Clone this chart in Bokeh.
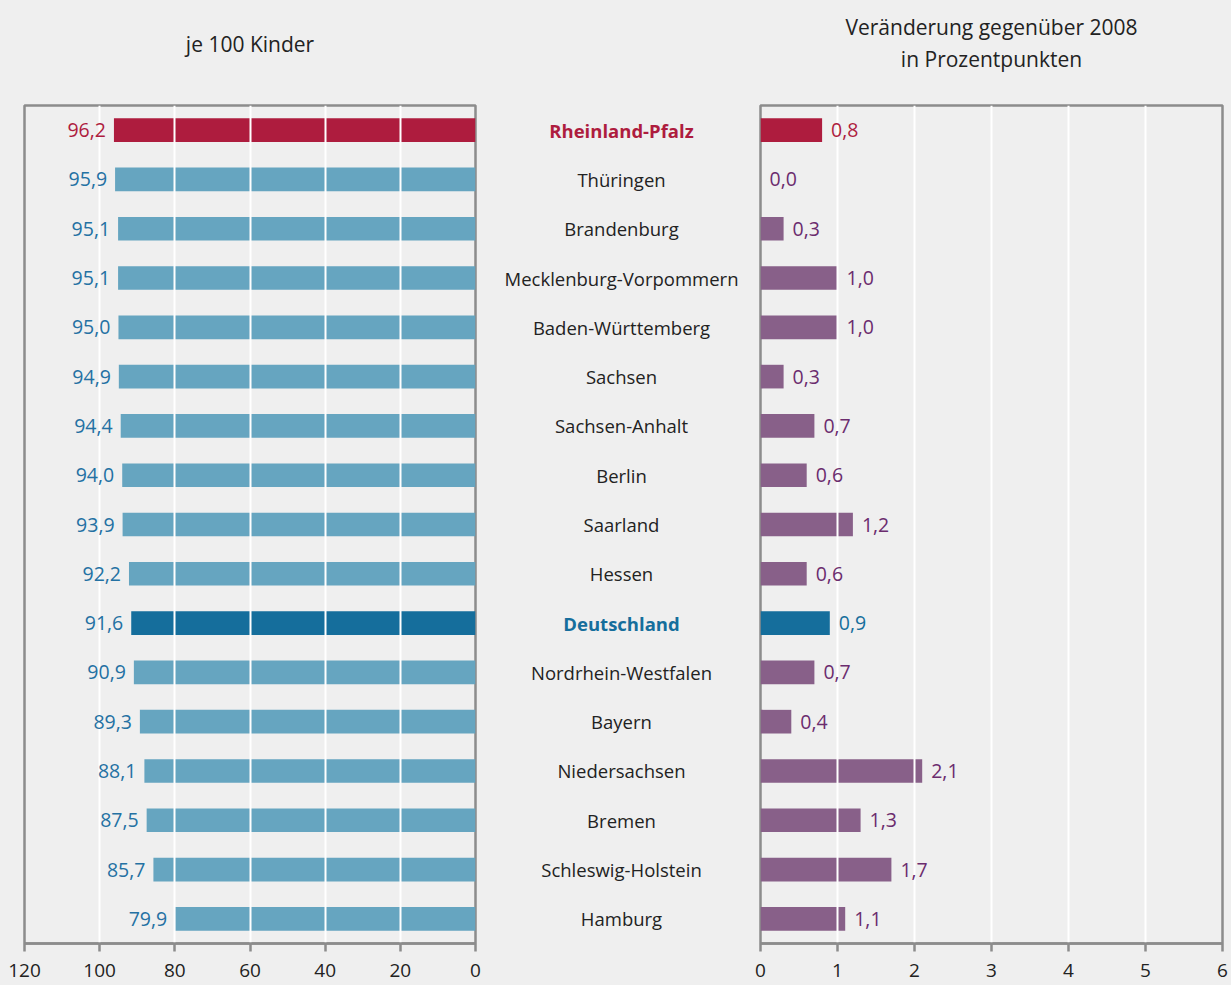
from bokeh.plotting import figure
from bokeh.layouts import row, column
from bokeh.models import ColumnDataSource, Range1d, FixedTicker
from bokeh.embed import file_html
from bokeh.resources import INLINE
from bokeh.core.properties import value

# ---------------- data ----------------
states = ["Rheinland-Pfalz", "Thüringen", "Brandenburg", "Mecklenburg-Vorpommern",
          "Baden-Württemberg", "Sachsen", "Sachsen-Anhalt", "Berlin", "Saarland",
          "Hessen", "Deutschland", "Nordrhein-Westfalen", "Bayern", "Niedersachsen",
          "Bremen", "Schleswig-Holstein", "Hamburg"]
quote_per_100 = [96.2, 95.9, 95.1, 95.1, 95.0, 94.9, 94.4, 94.0, 93.9, 92.2,
                 91.6, 90.9, 89.3, 88.1, 87.5, 85.7, 79.9]
change_pp = [0.8, 0.0, 0.3, 1.0, 1.0, 0.3, 0.7, 0.6, 1.2, 0.6,
             0.9, 0.7, 0.4, 2.1, 1.3, 1.7, 1.1]
left_ticks = [0, 20, 40, 60, 80, 100, 120]
right_ticks = [0, 1, 2, 3, 4, 5, 6]
left_title = "je 100 Kinder"
right_title = ["Veränderung gegenüber 2008", "in Prozentpunkten"]
highlight_red = "Rheinland-Pfalz"
highlight_blue = "Deutschland"

# ---------------- styles ----------------
BG = "#efefef"
FRAME = "#8c8c8c"
FONT = "Open Sans"
RED = "#ae1c3e"
LBLUE = "#66a5c0"
DBLUE = "#156e9c"
PURPLE = "#886089"
TXT_BLUE = "#2471a3"
TXT_PURPLE = "#6b2c6e"
TXT = "#222222"


def fmt(v):
    return f"{v:.1f}".replace(".", ",")


ys = list(range(len(states)))
left_bar_col, right_bar_col, left_txt_col, right_txt_col, name_col, name_style = [], [], [], [], [], []
for s in states:
    if s == highlight_red:
        left_bar_col.append(RED); right_bar_col.append(RED)
        left_txt_col.append(RED); right_txt_col.append(RED)
        name_col.append(RED); name_style.append("bold")
    elif s == highlight_blue:
        left_bar_col.append(DBLUE); right_bar_col.append(DBLUE)
        left_txt_col.append(TXT_BLUE); right_txt_col.append(DBLUE)
        name_col.append(DBLUE); name_style.append("bold")
    else:
        left_bar_col.append(LBLUE); right_bar_col.append(PURPLE)
        left_txt_col.append(TXT_BLUE); right_txt_col.append(TXT_PURPLE)
        name_col.append(TXT); name_style.append("normal")

src = ColumnDataSource(dict(
    y=ys, state=states, quote=quote_per_100, change=change_pp,
    quote_lbl=[fmt(v) for v in quote_per_100], change_lbl=[fmt(v) for v in change_pp],
    lbc=left_bar_col, rbc=right_bar_col, ltc=left_txt_col, rtc=right_txt_col,
    nc=name_col, ns=name_style, zero=[0] * len(states), mid=[0.5] * len(states),
))

yr = Range1d(len(states) - 0.5, -0.5)
FH = 838
TOP = 8
BOTTOM = 42
HEAD_H = 97
L_BL, L_FW, L_BR = 24, 451, 15
M_FW = 262
R_BL, R_FW, R_BR = 8, 462, 9
TOTAL_W = L_BL + L_FW + L_BR + M_FW + R_BL + R_FW + R_BR


def style_axis(p, ticks):
    ax = p.xaxis[0]
    ax.ticker = FixedTicker(ticks=ticks)
    ax.axis_line_color = FRAME
    ax.axis_line_width = 2.5
    ax.major_tick_line_color = FRAME
    ax.major_tick_line_width = 2.5
    ax.major_tick_out = 8
    ax.major_tick_in = 0
    ax.minor_tick_line_color = None
    ax.major_label_standoff = 12
    ax.major_label_text_font = FONT
    ax.major_label_text_font_size = "19px"
    ax.major_label_text_color = TXT
    p.grid.visible = False


# ---------------- header with the two panel titles ----------------
ph = figure(width=TOTAL_W, height=HEAD_H, x_range=Range1d(0, TOTAL_W), y_range=Range1d(HEAD_H, 0),
            output_backend="svg", toolbar_location=None,
            x_axis_location=None, y_axis_location=None, min_border=0,
            background_fill_color=BG, border_fill_color=BG, outline_line_color=None)
ph.grid.visible = False
left_cx = L_BL + L_FW / 2
right_cx = L_BL + L_FW + L_BR + M_FW + R_BL + R_FW / 2
ph.text(x=[left_cx], y=[43], text=[left_title], text_align="center", text_baseline="middle",
        text_font=value(FONT), text_font_size="21px", text_color=TXT)
ph.text(x=[right_cx, right_cx], y=[26, 58], text=right_title, text_align="center",
        text_baseline="middle", text_font=value(FONT), text_font_size="21px", text_color=TXT)

# ---------------- left panel ----------------
p1 = figure(frame_width=L_FW, frame_height=FH, x_range=Range1d(left_ticks[-1], left_ticks[0]),
            y_range=yr, output_backend="svg", toolbar_location=None,
            y_axis_location=None, min_border_left=L_BL, min_border_right=L_BR,
            min_border_top=TOP, min_border_bottom=BOTTOM,
            background_fill_color=BG, border_fill_color=BG,
            outline_line_color=FRAME, outline_line_width=2.5)
style_axis(p1, left_ticks)
p1.hbar(y="y", left="zero", right="quote", height=0.48, fill_color="lbc", line_color=None, source=src)
p1.vspan(x=left_ticks[1:-1], line_color="white", line_width=2)
p1.text(x="quote", y="y", text="quote_lbl", text_align="right", text_baseline="middle",
        x_offset=-8, text_color="ltc", text_font=value(FONT), text_font_size="19.5px", source=src)

# ---------------- middle (names) ----------------
p2 = figure(frame_width=M_FW, frame_height=FH, x_range=Range1d(0, 1), y_range=yr,
            output_backend="svg", toolbar_location=None,
            x_axis_location=None, y_axis_location=None,
            min_border_left=0, min_border_right=0, min_border_top=TOP, min_border_bottom=BOTTOM,
            background_fill_color=BG, border_fill_color=BG, outline_line_color=None)
p2.grid.visible = False
p2.text(x="mid", y="y", text="state", text_align="center", text_baseline="middle",
        text_color="nc", text_font_style="ns", text_font=value(FONT), text_font_size="18.5px",
        source=src)

# ---------------- right panel ----------------
p3 = figure(frame_width=R_FW, frame_height=FH, x_range=Range1d(right_ticks[0], right_ticks[-1]),
            y_range=yr, output_backend="svg", toolbar_location=None,
            y_axis_location=None, min_border_left=R_BL, min_border_right=R_BR,
            min_border_top=TOP, min_border_bottom=BOTTOM,
            background_fill_color=BG, border_fill_color=BG,
            outline_line_color=FRAME, outline_line_width=2.5)
style_axis(p3, right_ticks)
p3.hbar(y="y", left="zero", right="change", height=0.48, fill_color="rbc", line_color=None, source=src)
p3.vspan(x=right_ticks[1:-1], line_color="white", line_width=2)
p3.text(x="change", y="y", text="change_lbl", text_align="left", text_baseline="middle",
        x_offset=9, text_color="rtc", text_font=value(FONT), text_font_size="19.5px", source=src)

layout = column(ph, row(p1, p2, p3, spacing=0), spacing=0, styles={"background-color": BG})
open("out.html", "w").write(file_html(layout, INLINE))
